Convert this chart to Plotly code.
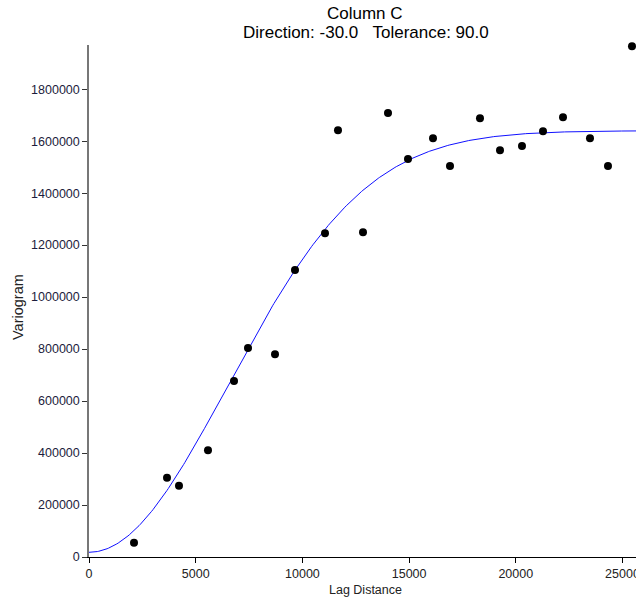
import numpy as np
import plotly.graph_objects as go

lag_distance = [2109, 3655, 4217, 5576, 6795, 7451, 8716, 9653, 11059, 11668,
                12840, 14011, 14948, 16120, 16917, 18322, 19260, 20290, 21275,
                22212, 23477, 24320, 25445]
variogram = [55000, 305000, 274000, 411000, 677000, 804000, 780000, 1104000,
             1246000, 1642000, 1250000, 1708000, 1531000, 1611000, 1504000,
             1688000, 1565000, 1581000, 1638000, 1692000, 1611000, 1504000,
             1965000]

# Gaussian variogram model parameters (fitted line)
nugget = 18000
partial_sill = 1622000
scale_a = 9175

x_ticks = [0, 5000, 10000, 15000, 20000, 25000]
y_ticks = [0, 200000, 400000, 600000, 800000, 1000000, 1200000, 1400000,
           1600000, 1800000]

title_line1 = "Column C"
title_line2 = "Direction:\u00a0-30.0\u00a0\u00a0\u00a0Tolerance:\u00a090.0"

h = np.linspace(0, 26000, 400)
model = nugget + partial_sill * (1 - np.exp(-(h / scale_a) ** 2))

W, H = 636, 601
L, R, T, B = 89, 0, 45, 44
PW, PH = W - L - R, H - T - B


def px_x(px):
    return (px - L) / PW


def px_y(py):
    return (H - B - py) / PH


fig = go.Figure()
fig.add_trace(go.Scatter(x=h, y=model, mode="lines",
                         line=dict(color="#1010ff", width=1), hoverinfo="skip"))
fig.add_trace(go.Scatter(x=lag_distance, y=variogram, mode="markers",
                         marker=dict(color="black", size=8), cliponaxis=False))

font = "Liberation Sans, Arial, sans-serif"
fig.update_layout(
    width=W, height=H,
    margin=dict(l=L, r=R, t=T, b=B, autoexpand=False),
    paper_bgcolor="white", plot_bgcolor="white",
    showlegend=False,
    font=dict(family=font, size=12.5, color="#222"),
    xaxis=dict(range=[0, 25633], tickvals=x_ticks, ticktext=[str(v) for v in x_ticks],
               automargin=False,
               showgrid=False, zeroline=False, showline=True, linecolor="black",
               linewidth=1, ticks="outside", ticklen=5, tickcolor="black",
               ticklabeloverflow="allow",
               tickfont=dict(family=font, size=12.5, color="#222")),
    yaxis=dict(range=[0, 1970000], tickvals=y_ticks, ticktext=[str(v) for v in y_ticks],
               automargin=False,
               showgrid=False, zeroline=False, showline=True, linecolor="#777",
               linewidth=1.5, ticks="outside", ticklen=5, tickcolor="#333",
               tickfont=dict(family=font, size=12.5, color="#1c1c3c")),
    annotations=[
        dict(text=title_line1, xref="paper", yref="paper", x=px_x(365), y=px_y(13),
             xanchor="center", yanchor="middle", showarrow=False,
             font=dict(family=font, size=17, color="black")),
        dict(text=title_line2, xref="paper", yref="paper", x=px_x(366), y=px_y(32),
             xanchor="center", yanchor="middle", showarrow=False,
             font=dict(family=font, size=17, color="black")),
        dict(text="Lag Distance", xref="paper", yref="paper", x=px_x(365), y=px_y(590),
             xanchor="center", yanchor="middle", showarrow=False,
             font=dict(family=font, size=12.5, color="#222")),
        dict(text="Variogram", xref="paper", yref="paper", x=px_x(18), y=px_y(307),
             xanchor="center", yanchor="middle", showarrow=False, textangle=-90,
             font=dict(family=font, size=14.5, color="#222")),
    ],
)

fig.write_html("out.html")
